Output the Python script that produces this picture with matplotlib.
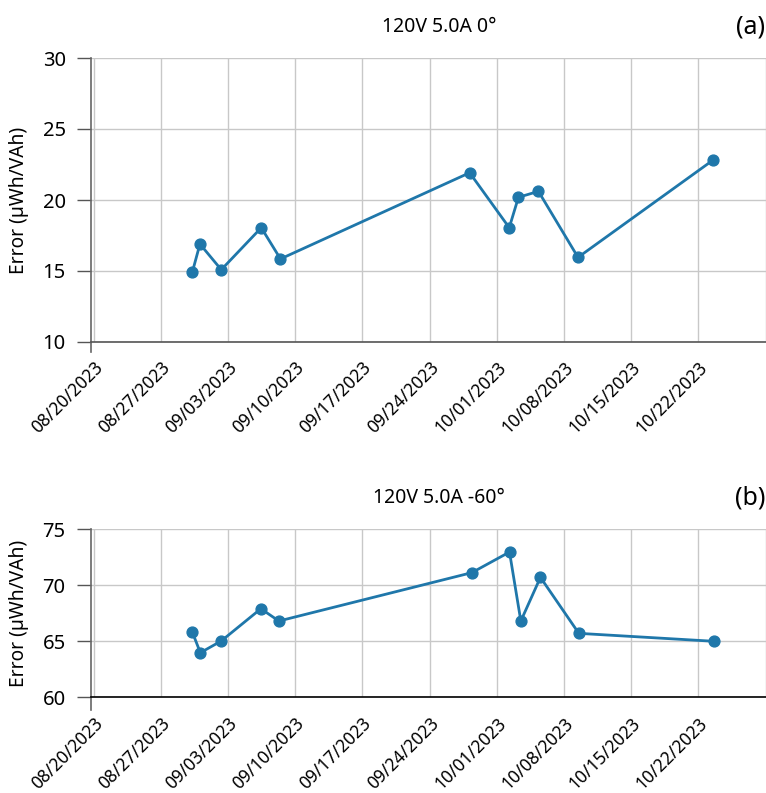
import matplotlib
matplotlib.use("Agg")
import matplotlib.pyplot as plt
import numpy as np
import pandas as pd

plt.rcParams['font.family'] = ['Noto Sans', 'DejaVu Sans']

# Messpunkte (a) 120V 5.0A 0°
t_a = ['2023-08-30 06:30', '2023-08-31 01:40', '2023-09-02 07:00', '2023-09-06 11:00',
       '2023-09-08 11:00', '2023-09-28 04:00', '2023-10-02 07:00', '2023-10-03 06:00',
       '2023-10-05 08:00', '2023-10-09 11:00', '2023-10-23 12:00']
err_a = [14.91, 16.90, 15.09, 18.05, 15.85, 21.92, 18.05, 20.19, 20.61, 15.96, 22.80]

# Messpunkte (b) 120V 5.0A -60°
t_b = ['2023-08-30 06:30', '2023-08-31 02:40', '2023-09-02 07:00', '2023-09-06 10:00',
       '2023-09-08 07:00', '2023-09-28 09:30', '2023-10-02 07:40', '2023-10-03 12:00',
       '2023-10-05 13:00', '2023-10-09 13:00', '2023-10-23 15:00']
err_b = [65.83, 63.98, 65.03, 67.91, 66.81, 71.13, 72.97, 66.81, 70.71, 65.71, 65.00]

titles = ['120V 5.0A 0°', '120V 5.0A -60°']
tags = ['(a)', '(b)']
ylims = [(10, 30), (60, 75)]
yticks = [[10, 15, 20, 25, 30], [60, 65, 70, 75]]

W, H = 766, 793
fig = plt.figure(figsize=(W/100, H/100), dpi=100)

# Achsen in Pixeln: left, top, bottom
boxes = [(90.7, 58, 342), (90.7, 529.3, 697.3)]
col = '#1f77aa'
x0 = pd.Timestamp('2023-08-20') - pd.Timedelta(hours=7.5)
x1 = pd.Timestamp('2023-10-29 01:00')

for i, (tt, ee) in enumerate([(t_a, err_a), (t_b, err_b)]):
    l, top, bot = boxes[i]
    ax = fig.add_axes([l/W, 1-bot/H, (W-l)/W, (bot-top)/H])
    ax.plot(pd.to_datetime(tt), ee, '-o', color=col, lw=2.0, markersize=7.8, clip_on=False, zorder=3)
    ax.set_xlim(x0, x1)
    ax.set_ylim(*ylims[i])
    ax.set_yticks(yticks[i])
    ticks = pd.date_range('2023-08-20', '2023-10-29', freq='7D')
    ax.set_xticks(ticks)
    ax.set_xticklabels([d.strftime('%m/%d/%Y') for d in ticks[:-1]] + [''])
    for lab in ax.get_xticklabels():
        lab.set_rotation(45)
        lab.set_ha('right')
        lab.set_va('top')
        lab.set_rotation_mode('anchor')
    ax.tick_params(axis='x', length=0, pad=12, labelsize=12.5)
    ax.tick_params(axis='y', length=10, width=1, color='#555555', pad=8, labelsize=14.5)
    ax.grid(True, color='#c8c8c8', lw=1)
    ax.set_axisbelow(True)
    for s in ['top', 'right']:
        ax.spines[s].set_visible(False)
    ax.spines['left'].set_color('#666666')
    ax.spines['left'].set_linewidth(1.2)
    lo, hi = ylims[i]
    ext = (10 if i == 0 else 12.7) / (bot - top) * (hi - lo)
    ax.spines['left'].set_bounds(lo - ext, hi)
    ax.spines['bottom'].set_color('#555555' if i == 0 else '#000000')
    ax.spines['bottom'].set_linewidth(1.2)
    ax.set_ylabel('Error (µWh/VAh)', fontsize=13.8)
    ax.yaxis.set_label_coords(-(l - 29) / (W - l), 0.5)
    ty = top - 31
    fig.text(439/W, 1-ty/H, titles[i], ha='center', va='center', fontsize=14)
    fig.text(765/W, 1-ty/H, tags[i], ha='right', va='center', fontsize=18)

plt.savefig('out.png', dpi=100)
